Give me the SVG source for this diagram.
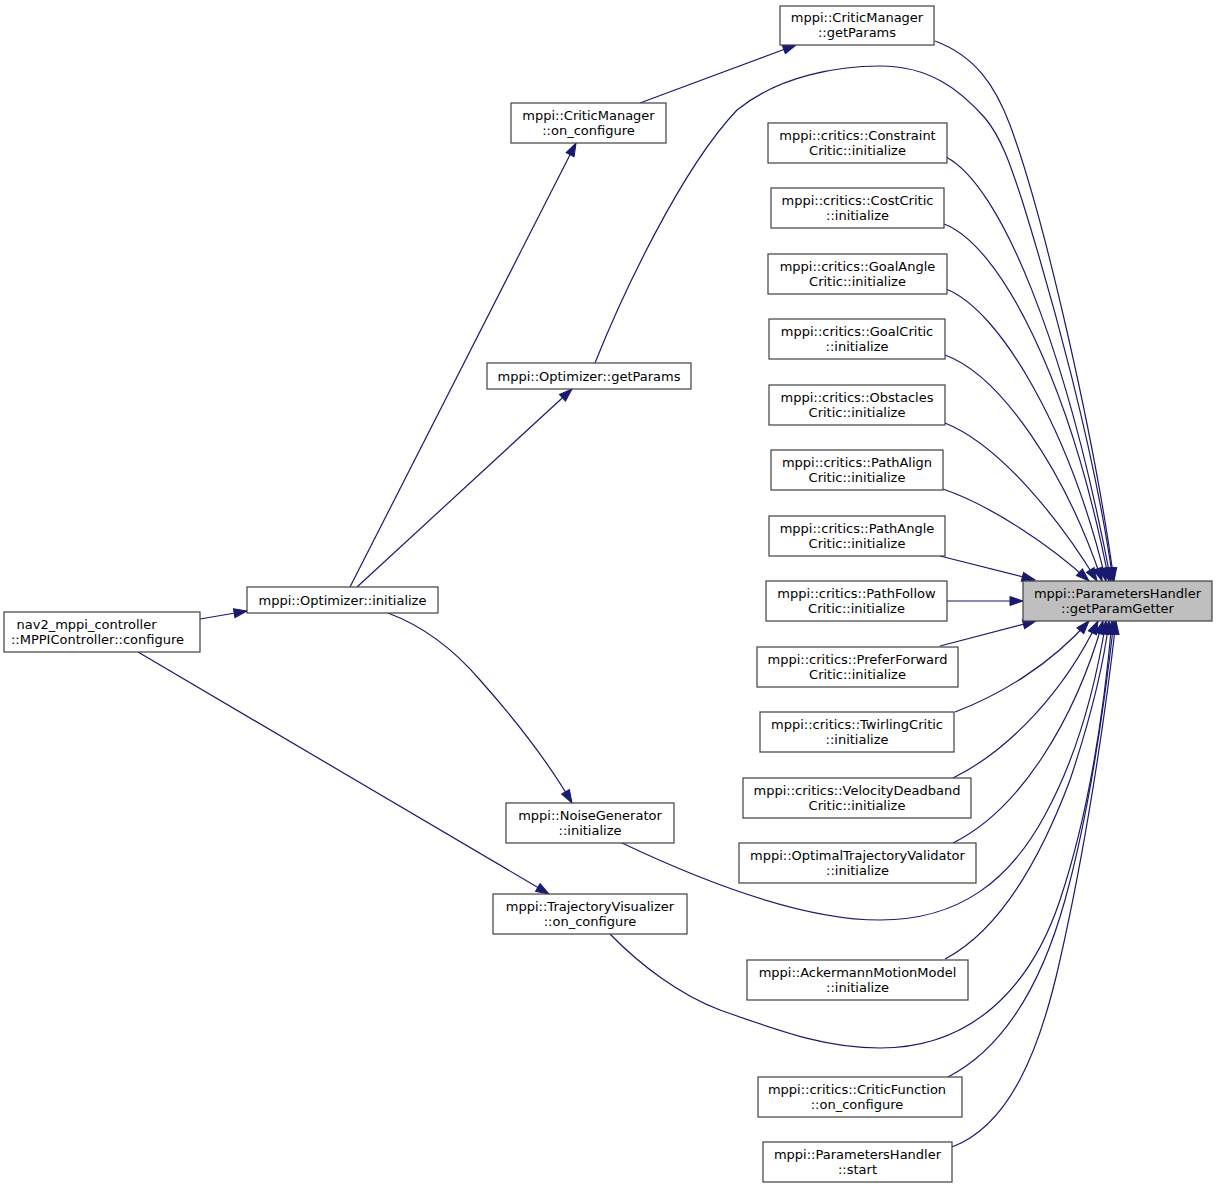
<svg xmlns="http://www.w3.org/2000/svg" width="1217" height="1188" viewBox="0 0 1217 1188">
<style>
.n rect{fill:#fff;stroke:#404040;stroke-width:1.2}
.n text{font-family:"DejaVu Sans",sans-serif;font-size:13px;fill:#000;text-anchor:middle}
#edges path{fill:none;stroke:#191970;stroke-width:1.2;marker-end:url(#a)}
</style>
<defs>
<marker id="a" markerWidth="14" markerHeight="10" refX="13" refY="4.5" orient="auto" markerUnits="userSpaceOnUse" overflow="visible"><path d="M0,0 L13,4.5 L0,9 z" fill="#191970" stroke="#191970"/></marker>
</defs>
<rect width="1217" height="1188" fill="#fff"/>
<g id="edges">
<path d="M200,619 L247,611"/>
<path d="M138,652 L549,894"/>
<path d="M350,587 L576,143"/>
<path d="M357,587 L572,389"/>
<path d="M388,613 C420,625 450,645 480,680 C520,725 550,765 572,803"/>
<path d="M640,103 L796,45"/>
<path d="M935,41 C975,56 995,85 1010,125 C1045,220 1095,440 1114,581"/>
<path d="M595,363 C620,300 680,170 737,110 C780,75 840,66 880,66 C930,66 960,90 985,118 C1003,140 1012,170 1022,200 C1050,290 1095,450 1113,581"/>
<path d="M946,157 C1000,185 1065,340 1111,581"/>
<path d="M944,224 C1000,245 1070,380 1109,581"/>
<path d="M946,289 C1000,310 1070,430 1106,581"/>
<path d="M945,355 C1000,375 1065,470 1102,581"/>
<path d="M945,423 C1000,445 1060,520 1097,581"/>
<path d="M943,489 C990,505 1050,545 1089,581"/>
<path d="M940,556 L1035,580"/>
<path d="M947,601 L1023,601"/>
<path d="M940,646 L1036,621"/>
<path d="M955,712 C1000,695 1050,665 1089,621"/>
<path d="M953,778 C1010,750 1065,690 1098,621"/>
<path d="M953,843 C1020,810 1075,720 1103,621"/>
<path d="M622,843 C700,880 800,920 880,920 C960,920 1010,880 1045,815 C1075,760 1095,690 1106,621"/>
<path d="M945,959 C1000,930 1040,860 1070,780 C1090,720 1103,670 1109,621"/>
<path d="M610,934 C640,965 680,995 720,1010 C790,1035 830,1048 880,1048 C970,1048 1030,990 1060,900 C1090,810 1105,700 1112,621"/>
<path d="M948,1077 C1000,1050 1040,990 1065,900 C1090,810 1105,700 1114,621"/>
<path d="M952,1147 C1010,1125 1040,1050 1060,960 C1085,850 1105,720 1116,621"/>
</g>
<g id="n_target" class="n"><rect x="1023" y="581" width="189" height="40" style="fill:#bfbfbf"/><text x="1117.5" y="597.5">mppi::ParametersHandler</text><text x="1117.5" y="612.5">::getParamGetter</text></g>
<g id="n_cm_getparams" class="n"><rect x="780" y="6" width="154" height="39"/><text x="857" y="22">mppi::CriticManager</text><text x="857" y="37">::getParams</text></g>
<g id="n_cm_onconfigure" class="n"><rect x="511" y="103" width="155" height="40"/><text x="588.5" y="119.5">mppi::CriticManager</text><text x="588.5" y="134.5">::on_configure</text></g>
<g id="n_constraint" class="n"><rect x="768" y="123" width="179" height="40"/><text x="857.5" y="139.5">mppi::critics::Constraint</text><text x="857.5" y="154.5">Critic::initialize</text></g>
<g id="n_cost" class="n"><rect x="771" y="188" width="173" height="40"/><text x="857.5" y="204.5">mppi::critics::CostCritic</text><text x="857.5" y="219.5">::initialize</text></g>
<g id="n_goalangle" class="n"><rect x="768" y="254" width="179" height="40"/><text x="857.5" y="270.5">mppi::critics::GoalAngle</text><text x="857.5" y="285.5">Critic::initialize</text></g>
<g id="n_goal" class="n"><rect x="769" y="319" width="176" height="40"/><text x="857" y="335.5">mppi::critics::GoalCritic</text><text x="857" y="350.5">::initialize</text></g>
<g id="n_obstacles" class="n"><rect x="769" y="385" width="176" height="40"/><text x="857" y="401.5">mppi::critics::Obstacles</text><text x="857" y="416.5">Critic::initialize</text></g>
<g id="n_pathalign" class="n"><rect x="771" y="450" width="172" height="40"/><text x="857" y="466.5">mppi::critics::PathAlign</text><text x="857" y="481.5">Critic::initialize</text></g>
<g id="n_pathangle" class="n"><rect x="769" y="516" width="176" height="40"/><text x="857" y="532.5">mppi::critics::PathAngle</text><text x="857" y="547.5">Critic::initialize</text></g>
<g id="n_pathfollow" class="n"><rect x="766" y="581" width="181" height="40"/><text x="856.5" y="597.5">mppi::critics::PathFollow</text><text x="856.5" y="612.5">Critic::initialize</text></g>
<g id="n_preferforward" class="n"><rect x="757" y="647" width="201" height="40"/><text x="857.5" y="663.5">mppi::critics::PreferForward</text><text x="857.5" y="678.5">Critic::initialize</text></g>
<g id="n_twirling" class="n"><rect x="760" y="712" width="194" height="40"/><text x="857" y="728.5">mppi::critics::TwirlingCritic</text><text x="857" y="743.5">::initialize</text></g>
<g id="n_velocity" class="n"><rect x="743" y="778" width="228" height="40"/><text x="857" y="794.5">mppi::critics::VelocityDeadband</text><text x="857" y="809.5">Critic::initialize</text></g>
<g id="n_optimaltraj" class="n"><rect x="739" y="843" width="237" height="40"/><text x="857.5" y="859.5">mppi::OptimalTrajectoryValidator</text><text x="857.5" y="874.5">::initialize</text></g>
<g id="n_ackermann" class="n"><rect x="747" y="960" width="221" height="40"/><text x="857.5" y="976.5">mppi::AckermannMotionModel</text><text x="857.5" y="991.5">::initialize</text></g>
<g id="n_criticfunction" class="n"><rect x="758" y="1077" width="204" height="40"/><text x="857" y="1093.5">mppi::critics::CriticFunction</text><text x="857" y="1108.5">::on_configure</text></g>
<g id="n_ph_start" class="n"><rect x="763" y="1142" width="189" height="40"/><text x="857.5" y="1158.5">mppi::ParametersHandler</text><text x="857.5" y="1173.5">::start</text></g>
<g id="n_opt_getparams" class="n"><rect x="487" y="363" width="204" height="26"/><text x="589" y="380.5">mppi::Optimizer::getParams</text></g>
<g id="n_opt_initialize" class="n"><rect x="247" y="587" width="191" height="26"/><text x="342.5" y="604.5">mppi::Optimizer::initialize</text></g>
<g id="n_noise" class="n"><rect x="506" y="803" width="168" height="40"/><text x="590" y="819.5">mppi::NoiseGenerator</text><text x="590" y="834.5">::initialize</text></g>
<g id="n_trajvis" class="n"><rect x="493" y="894" width="194" height="40"/><text x="590" y="910.5">mppi::TrajectoryVisualizer</text><text x="590" y="925.5">::on_configure</text></g>
<g id="n_nav2" class="n"><rect x="4" y="612" width="196" height="40"/><text x="86.5" y="628.5">nav2_mppi_controller</text><text x="97.5" y="643.5">::MPPIController::configure</text></g>
</svg>
